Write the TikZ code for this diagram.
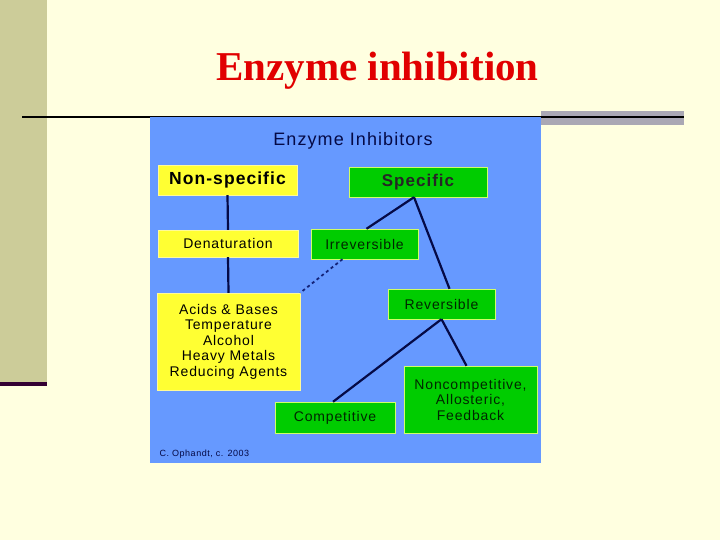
\documentclass[tikz,border=0pt]{standalone}
\usepackage{fontspec}
\setmainfont{Liberation Sans}[LetterSpace=6]
\newfontfamily\titlefont{Liberation Serif}
\definecolor{slidebg}{RGB}{255,255,224}
\definecolor{olivebar}{RGB}{204,204,153}
\definecolor{plumline}{RGB}{51,0,51}
\definecolor{greybar}{RGB}{170,168,180}
\definecolor{panelblue}{RGB}{102,153,255}
\definecolor{boxyellow}{RGB}{255,255,51}
\definecolor{boxgreen}{RGB}{0,204,0}
\definecolor{inkblue}{RGB}{5,10,70}
\definecolor{dashblue}{RGB}{20,35,120}
\definecolor{titlered}{RGB}{225,0,0}
\tikzset{
    box/.style={inner sep=0pt, align=center, font=\fontsize{14}{15.5}\selectfont}, % common look of every box
    yellowbox/.style={box, fill=boxyellow, draw=yellow!40!white, thin}, % non-specific branch
    greenbox/.style={box, fill=boxgreen, draw=green!30!yellow!60!white, thin, text=black!75!green!60!black}, % specific branch
    link/.style={draw=inkblue, line width=2.2pt}, % lines joining the boxes
}

\begin{document}
\begin{tikzpicture}[x=1pt, y=-1pt]
    % slide background
    \fill[slidebg] (0,0) rectangle (720,540);
    \useasboundingbox (0,0) rectangle (720,540);
    \fill[olivebar] (0,0) rectangle (47,382);
    \fill[plumline] (0,382) rectangle (47,385.5);
    \fill[greybar] (541,111) rectangle (684,125);
    \draw[line width=2pt] (22,117) -- (684,117);
    \fill[panelblue] (150,117) rectangle (541,463);

    \node[anchor=base, text=titlered, font=\titlefont\bfseries\fontsize{41}{41}\selectfont] (title) at (377.5,81) {Enzyme inhibition};
    \node[text=inkblue, font=\fontsize{18}{18}\selectfont] (head) at (353,141) {Enzyme Inhibitors};

    \node[yellowbox, minimum width=139pt, minimum height=30pt, font=\bfseries\fontsize{17.5}{17.5}\selectfont] (nonspec) at (227.5,180) {Non-specific};
    \node[greenbox, minimum width=138pt, minimum height=30pt, text=black!85, font=\bfseries\fontsize{17}{17}\selectfont] (spec) at (418,182) {Specific};
    \node[yellowbox, minimum width=140pt, minimum height=27pt, text depth=0pt] (denat) at (228,243.5) {Denaturation};
    \node[greenbox, minimum width=107pt, minimum height=30pt] (irrev) at (364.5,244) {Irreversible};
    \node[greenbox, minimum width=107pt, minimum height=30pt] (rev) at (441.5,304) {Reversible};
    \node[yellowbox, minimum width=143pt, minimum height=97pt] (agents) at (228.5,341.5) {Acids \& Bases\\Temperature\\Alcohol\\Heavy Metals\\Reducing Agents};
    \node[greenbox, minimum width=120pt, minimum height=31pt] (comp) at (335,417.5) {Competitive};
    \node[greenbox, minimum width=133pt, minimum height=67pt] (noncomp) at (470.5,399.5) {Noncompetitive,\\Allosteric,\\Feedback};
    \node[anchor=west, text=inkblue, font=\fontsize{9}{9}\selectfont] (credit) at (156,454) {C. Ophandt, c. 2003};

    \draw[link] (nonspec.south) -- (denat.north);
    \draw[link] (denat.south) -- (agents.north);
    \draw[link] ([xshift=-4pt]spec.south) -- ([xshift=2pt]irrev.north);
    \draw[link] ([xshift=-4pt]spec.south) -- ([xshift=8pt]rev.north);
    \draw[link] (rev.south) -- ([xshift=-2pt]comp.north);
    \draw[link] (rev.south) -- ([xshift=-4pt]noncomp.north);
    \draw[link, draw=dashblue, line width=1.8pt, dash pattern=on 3pt off 3pt] ([xshift=-22pt]irrev.south) -- (agents.north east);
\end{tikzpicture}
\end{document}
